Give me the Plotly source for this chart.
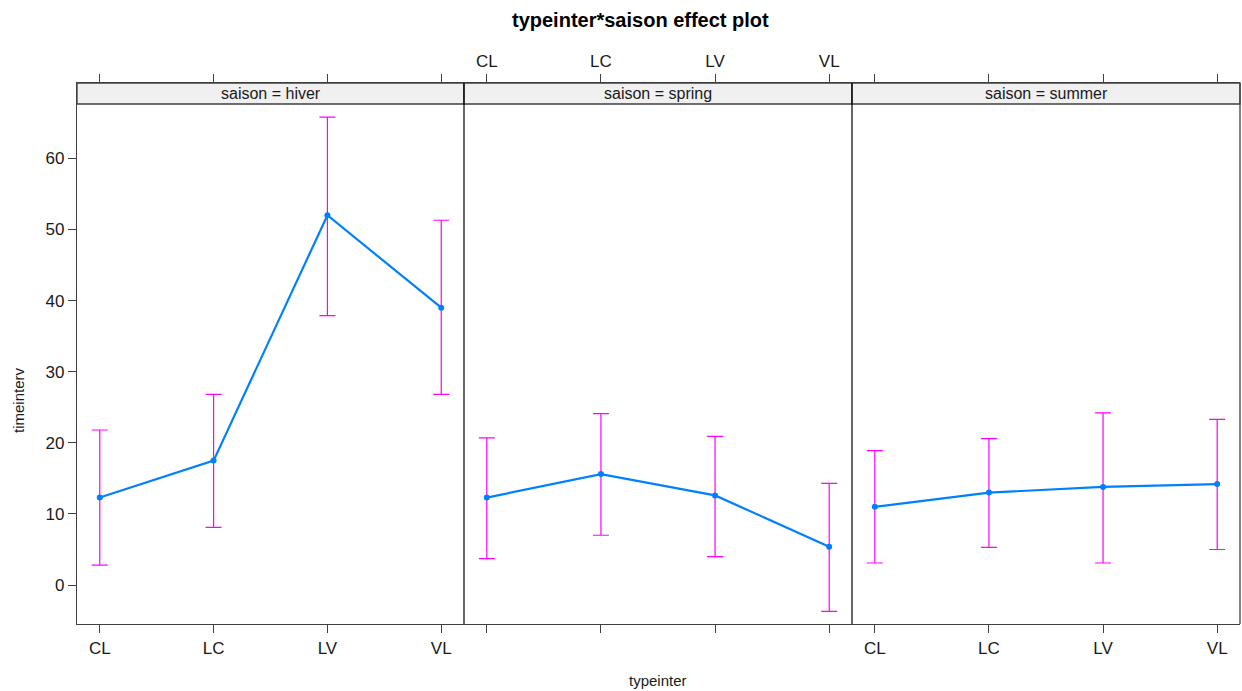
import plotly.graph_objects as go

categories = ["CL", "LC", "LV", "VL"]
seasons = ["hiver", "spring", "summer"]

fit = {
    "hiver":  [12.3, 17.5, 52.0, 39.0],
    "spring": [12.3, 15.6, 12.6, 5.4],
    "summer": [11.0, 13.0, 13.8, 14.2],
}
lower = {
    "hiver":  [2.8, 8.1, 37.9, 26.8],
    "spring": [3.7, 7.0, 4.0, -3.7],
    "summer": [3.1, 5.3, 3.1, 5.0],
}
upper = {
    "hiver":  [21.8, 26.8, 65.8, 51.3],
    "spring": [20.7, 24.1, 20.9, 14.3],
    "summer": [18.9, 20.6, 24.2, 23.3],
}
y_ticks = [0, 10, 20, 30, 40, 50, 60]

FONT = "Liberation Sans, Arial, sans-serif"
LINE_COL = "#0080FF"
ERR_COL = "#FF00FF"
AX_COL = "#404040"
TXT_COL = "#1a1a1a"

W, H = 1242, 691
ML, MR, MT, MB = 77, 2, 83, 67
plot_w = W - ML - MR
plot_h = H - MT - MB
edges = [77, 464, 852, 1240]
domains = [[(edges[i] - ML) / plot_w, (edges[i + 1] - ML) / plot_w] for i in range(3)]
strip_bottom = (H - MB - 104) / plot_h

fig = go.Figure()
xr = [-0.2, 3.2]
yr = [-5.48, 70.6]

for i, s in enumerate(seasons):
    xa = "x" if i == 0 else f"x{i+1}"
    xs = list(range(len(categories)))
    plus = [u - f for u, f in zip(upper[s], fit[s])]
    minus = [f - l for f, l in zip(fit[s], lower[s])]
    fig.add_trace(go.Scatter(
        x=xs, y=fit[s], xaxis=xa, yaxis="y", mode="lines+markers",
        line=dict(color=LINE_COL, width=2.2),
        marker=dict(color=LINE_COL, size=6, symbol="circle"),
        error_y=dict(type="data", symmetric=False, array=plus, arrayminus=minus,
                     color=ERR_COL, thickness=1.2, width=8),
        showlegend=False, hoverinfo="skip",
    ))

# invisible trace to activate top label axis on spring panel
fig.add_trace(go.Scatter(x=[0], y=[0], xaxis="x4", yaxis="y", mode="markers",
                         marker=dict(opacity=0), showlegend=False, hoverinfo="skip"))

layout = dict(
    width=W, height=H,
    margin=dict(l=ML, r=MR, t=MT, b=MB),
    paper_bgcolor="white", plot_bgcolor="white",
    font=dict(family=FONT, size=15, color=TXT_COL),
    showlegend=False,
)

for i in range(3):
    key = "xaxis" if i == 0 else f"xaxis{i+1}"
    layout[key] = dict(
        domain=domains[i], range=xr, anchor="y",
        tickmode="array", tickvals=list(range(len(categories))),
        ticktext=categories,
        showticklabels=(i != 1),
        ticks="outside", ticklen=8, tickcolor=AX_COL, tickwidth=1,
        showline=True, linecolor=AX_COL, linewidth=1.3, mirror="ticks",
        showgrid=False, zeroline=False,
        tickfont=dict(size=17, color=TXT_COL, family=FONT),
        fixedrange=True,
    )
layout["xaxis4"] = dict(
    domain=domains[1], range=xr, anchor="y", overlaying="x2", side="top",
    tickmode="array", tickvals=list(range(len(categories))), ticktext=categories,
    ticks="outside", ticklen=8, tickcolor=AX_COL,
    showline=False, showgrid=False, zeroline=False,
    tickfont=dict(size=17, color=TXT_COL, family=FONT),
)

layout["yaxis"] = dict(
    domain=[0, 1], range=yr, anchor="x",
    tickmode="array", tickvals=y_ticks,
    ticks="outside", ticklen=8, tickcolor=AX_COL,
    showline=True, linecolor=AX_COL, linewidth=1.3,
    showgrid=False, zeroline=False,
    tickfont=dict(size=17, color=TXT_COL, family=FONT),
)

shapes = []
for i in range(3):
    shapes.append(dict(type="rect", xref="paper", yref="paper",
                       x0=domains[i][0], x1=domains[i][1], y0=strip_bottom, y1=1,
                       fillcolor="#F0F0F0", line=dict(color=AX_COL, width=1.3),
                       layer="above"))
for i in [1, 2]:
    shapes.append(dict(type="line", xref="paper", yref="paper",
                       x0=domains[i][0], x1=domains[i][0], y0=0, y1=1,
                       line=dict(color="black", width=1.2)))
shapes.append(dict(type="line", xref="paper", yref="paper",
                   x0=1, x1=1, y0=0, y1=1, line=dict(color=AX_COL, width=1.3)))
layout["shapes"] = shapes

annotations = []
for i, s in enumerate(seasons):
    annotations.append(dict(
        text=f"saison = {s}", xref="paper", yref="paper",
        x=(domains[i][0] + domains[i][1]) / 2, y=(strip_bottom + 1) / 2,
        showarrow=False, xanchor="center", yanchor="middle",
        font=dict(size=16, color=TXT_COL, family=FONT),
    ))
annotations.append(dict(
    text="<b>typeinter*saison effect plot</b>", xref="paper", yref="paper",
    x=(640 - ML) / plot_w, y=(H - MB - 20) / plot_h,
    showarrow=False, xanchor="center", yanchor="middle",
    font=dict(size=20, color="black", family=FONT),
))
annotations.append(dict(
    text="timeinterv", xref="paper", yref="paper",
    x=(18 - ML) / plot_w, y=(H - MB - 400) / plot_h, textangle=-90,
    showarrow=False, xanchor="center", yanchor="middle",
    font=dict(size=15, color=TXT_COL, family=FONT),
))
annotations.append(dict(
    text="typeinter", xref="paper", yref="paper",
    x=(658 - ML) / plot_w, y=(H - MB - 680) / plot_h,
    showarrow=False, xanchor="center", yanchor="middle",
    font=dict(size=15, color=TXT_COL, family=FONT),
))
layout["annotations"] = annotations

fig.update_layout(**layout)
fig.write_html("out.html", config={"displayModeBar": False},
               post_script="document.body.style.margin='0px';")
